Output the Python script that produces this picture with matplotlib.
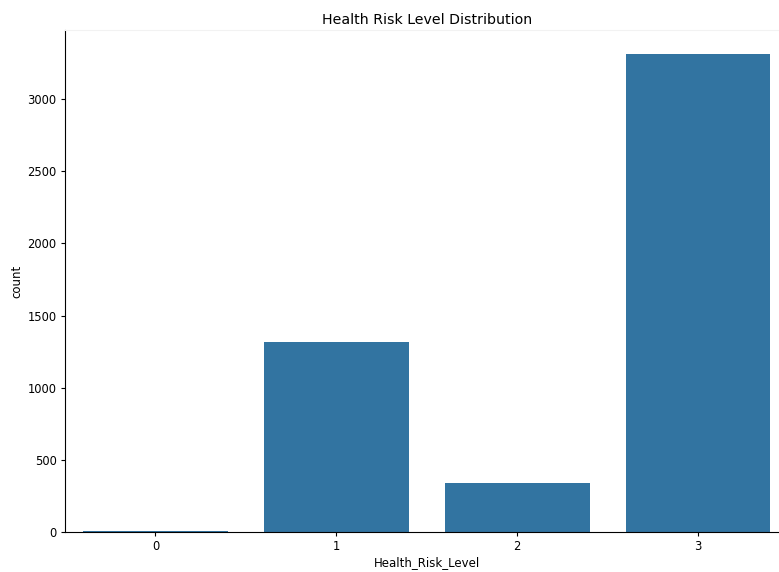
import matplotlib
matplotlib.use("Agg")
import matplotlib.pyplot as plt
import numpy as np

categories = ["0", "1", "2", "3"]
counts = [10, 1315, 342, 3310]
yticks = [0, 500, 1000, 1500, 2000, 2500, 3000]

fig = plt.figure(figsize=(7.79, 5.72), dpi=100)
ax = fig.add_axes([0.0834, 0.0699, 0.9288, 0.8768])

x = np.arange(len(categories))
ax.bar(x, counts, width=0.8, color="#3274a1")
ax.set_xlim(-0.5, 3.5)
ax.set_ylim(0, max(counts) * 1.05)
ax.set_xticks(x)
ax.set_xticklabels(categories)
ax.set_yticks(yticks)
ax.tick_params(labelsize=8.3, length=3, width=0.8, pad=3)
ax.set_xlabel("Health_Risk_Level", fontsize=8.5, labelpad=2)
ax.set_ylabel("count", fontsize=8.5, labelpad=3)
ax.set_title("Health Risk Level Distribution", fontsize=10.2, pad=5)
ax.spines["right"].set_visible(False)
ax.spines["top"].set_color("#f2f2f2")

fig.savefig("out.png", dpi=100)
